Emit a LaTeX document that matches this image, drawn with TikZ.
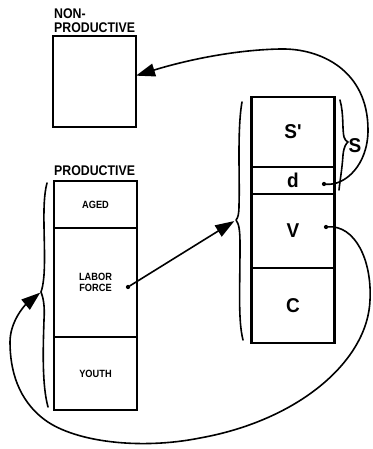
\documentclass[tikz,border=0pt]{standalone}
\usepackage{fontspec}
\usetikzlibrary{arrows.meta}
\newfontfamily\labfont[FakeStretch=0.88]{Liberation Sans Bold}
\newfontfamily\bigfont[FakeStretch=0.95]{Liberation Sans Bold}
\begin{document}
\begin{tikzpicture}[x=1pt,y=-1pt,
  cell/.style={draw,line width=2.2pt,inner sep=0pt,outer sep=0pt,minimum width=83pt,align=center},
  small/.style={font=\labfont\fontsize{10.5}{11.5}\selectfont},
  heading/.style={font=\labfont\fontsize{14}{14}\selectfont,align=left,inner sep=0pt,anchor=south west},
  big/.style={font=\bigfont\fontsize{20}{22}\selectfont},
  brace/.style={line width=1.6pt,line cap=round,line join=round},
  conn/.style={line width=1.6pt,line cap=round},
  arr/.style={conn,-{Triangle[length=19pt,width=13pt]}},
  dot/.style={circle,fill,inner sep=1.5pt,outer sep=0pt}]
\useasboundingbox (0,0) rectangle (372,449);

% non-productive block
\node[heading] (nplab) at (54,33) {NON-\\PRODUCTIVE};
\node[cell,minimum height=91pt] (np) at (94.5,81.5) {};

% productive column
\node[heading] (plab) at (54,176) {PRODUCTIVE};
\node[cell,minimum height=47pt,small] (aged) at (95.5,204.5) {AGED};
\node[cell,minimum height=109pt,small] (labor) at (95.5,282.5) {LABOR\\FORCE};
\node[cell,minimum height=73pt,small] (youth) at (95.5,373.5) {YOUTH};

% value column
\node[cell,minimum height=70pt,big] (sp) at (293,132) {S\char39};
\node[cell,minimum height=27pt,big] (d) at (293,180.5) {d};
\node[cell,minimum height=74pt,big] (v) at (293,231) {V};
\node[cell,minimum height=75pt,big] (c) at (293,305.5) {C};
\node[big,inner sep=0pt] (slab) at (355,146) {S};

% dots
\node[dot] (ldot) at (128,287) {};
\node[dot] (ddot) at (324,184) {};
\node[dot] (vdot) at (326,227) {};

% brace tips
\coordinate (ltip) at (41,292);
\coordinate (rtip) at (236,220);

% braces
\draw[brace] (47,183) .. controls (41,205) and (46,245) .. (44,275)
  .. controls (43,286) and (42,289) .. (ltip)
  .. controls (43,297) and (45,305) .. (44,320)
  .. controls (43,350) and (42,385) .. (48,407);
\draw[brace] (242,102) .. controls (237,130) and (240,180) .. (239,205)
  .. controls (239,214) and (238,218) .. (rtip)
  .. controls (239,224) and (240,230) .. (240,245)
  .. controls (240,290) and (238,320) .. (243,340);
\draw[brace] (340,100) .. controls (344,115) and (342,128) .. (344,137)
  .. controls (345,140) and (346,141) .. (348,142)
  .. controls (346,144) and (344,146) .. (343,155)
  .. controls (342,170) and (340,180) .. (339,190);

% connectors
\draw[arr,shorten >=2pt] (ldot) -- (rtip);
\draw[arr] (ddot) .. controls (345,186) and (368,165) .. (368,130)
  .. controls (368,70) and (320,48) .. (280,49)
  .. controls (230,50) and (180,62) .. (np.8);
\draw[arr,shorten >=1pt] (vdot) .. controls (355,225) and (372,260) .. (370,300)
  .. controls (368,360) and (300,420) .. (200,438)
  .. controls (140,450) and (75,442) .. (45,420)
  .. controls (18,400) and (10,370) .. (10,342)
  .. controls (10,322) and (24,306) .. (ltip);
\end{tikzpicture}
\end{document}
